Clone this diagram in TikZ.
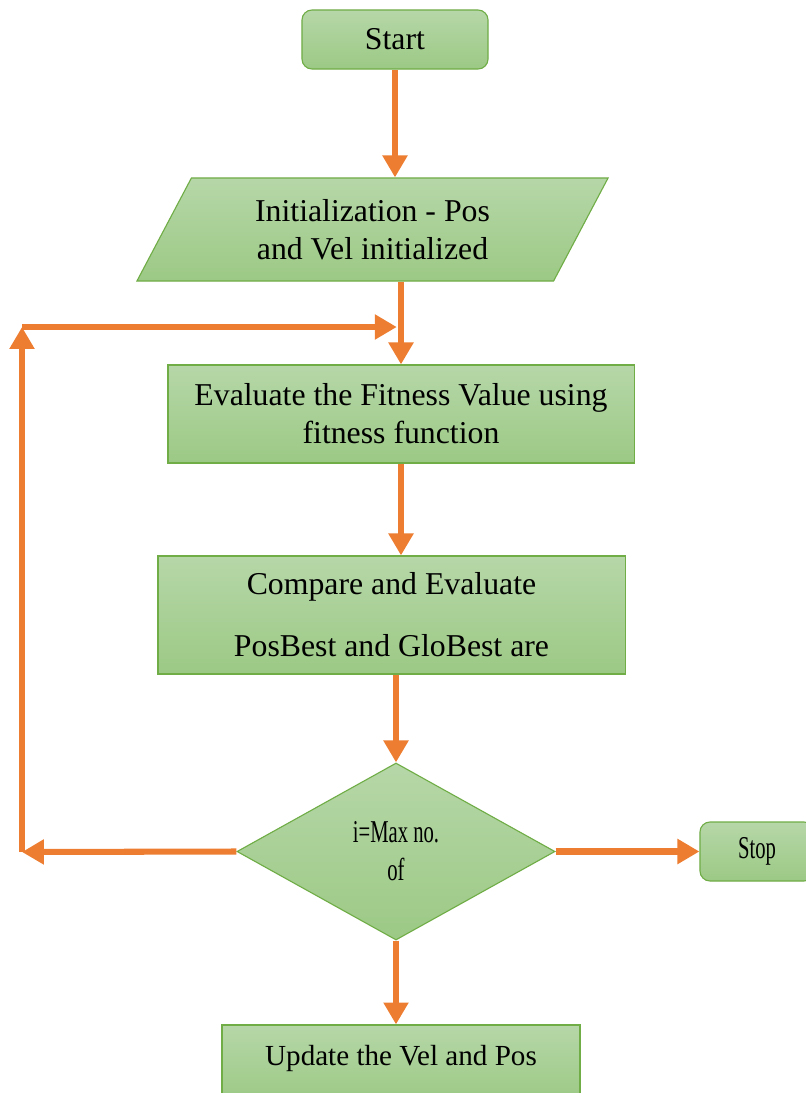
\documentclass[tikz,border=0pt]{standalone}
\usepackage{fontspec}
\setmainfont{Liberation Serif}
\newfontfamily\narrowrm[FakeStretch=0.65]{Liberation Serif}
\usetikzlibrary{
  shapes.geometric, % for trapezium and diamond
  arrows.meta}
\definecolor{boxtop}{HTML}{B6D7A8}
\definecolor{boxbot}{HTML}{9CC985}
\definecolor{boxline}{HTML}{70AD47}
\definecolor{flowline}{HTML}{ED7D31}
\tikzstyle{block} = [draw=boxline, line width=0.8pt, top color=boxtop, bottom color=boxbot, align=center, inner sep=0pt, font=\fontsize{22.6}{27}\selectfont]
\tikzstyle{term} = [block, rounded corners=0.25cm]
\tikzstyle{io} = [block, trapezium, trapezium left angle=48, trapezium right angle=132, trapezium stretches body]
\tikzstyle{decide} = [block, diamond]
\tikzstyle{flow} = [draw=flowline, line width=4.3pt, -{Triangle[length=15.6pt,width=17pt]}]

\begin{document}
\begin{tikzpicture}[ x=0.025cm, y=-0.025cm ]
\useasboundingbox (0,0) rectangle (806,1093);

\node[term, minimum width=4.65cm, minimum height=1.475cm] (start) at (395,39.5) {Start};
\node[io, minimum width=11.775cm, minimum height=2.575cm] (init) at (372.5,229.5) {Initialization - Pos\\and Vel initialized};
\node[block, minimum width=11.65cm, minimum height=2.45cm] (eval) at (401,414) {Evaluate the Fitness Value using\\fitness function};
\node[block, minimum width=11.675cm, minimum height=2.95cm] (cmp) at (391.5,615) {Compare and Evaluate\\[17pt]PosBest and GloBest are};
\node[decide, minimum width=7.95cm, minimum height=4.425cm] (dec) at (396,851.5) {\narrowrm i=Max no.\\\narrowrm of};
\node[term, minimum width=2.85cm, minimum height=1.475cm] (stop) at (757,851.5) {\narrowrm Stop};
\node[block, minimum width=8.95cm, minimum height=1.9cm, font=\fontsize{20.7}{25}\selectfont] (upd) at (401,1063) {\raisebox{11pt}{Update the Vel and Pos}};

\coordinate (loopL) at (22,852);
\coordinate (loopT) at (22,327);

\draw[flow] (start.south) -- (start.south |- init.north);
\draw[flow] (eval.north |- init.south) -- (eval.north);
\draw[flow] (eval.south) -- (eval.south |- cmp.north);
\draw[flow] (dec.north |- cmp.south) -- (dec.north);
\draw[flow] (dec.east) -- (stop.west);
\draw[flow] (dec.south) -- (dec.south |- upd.north);
% back to the fitness step
\draw[flow] (dec.west) -- (loopL);
\draw[flow] (loopL) -- (loopT);
\draw[flow] (loopT) -- ([xshift=-3]eval.north |- loopT);

\end{tikzpicture}
\end{document}
